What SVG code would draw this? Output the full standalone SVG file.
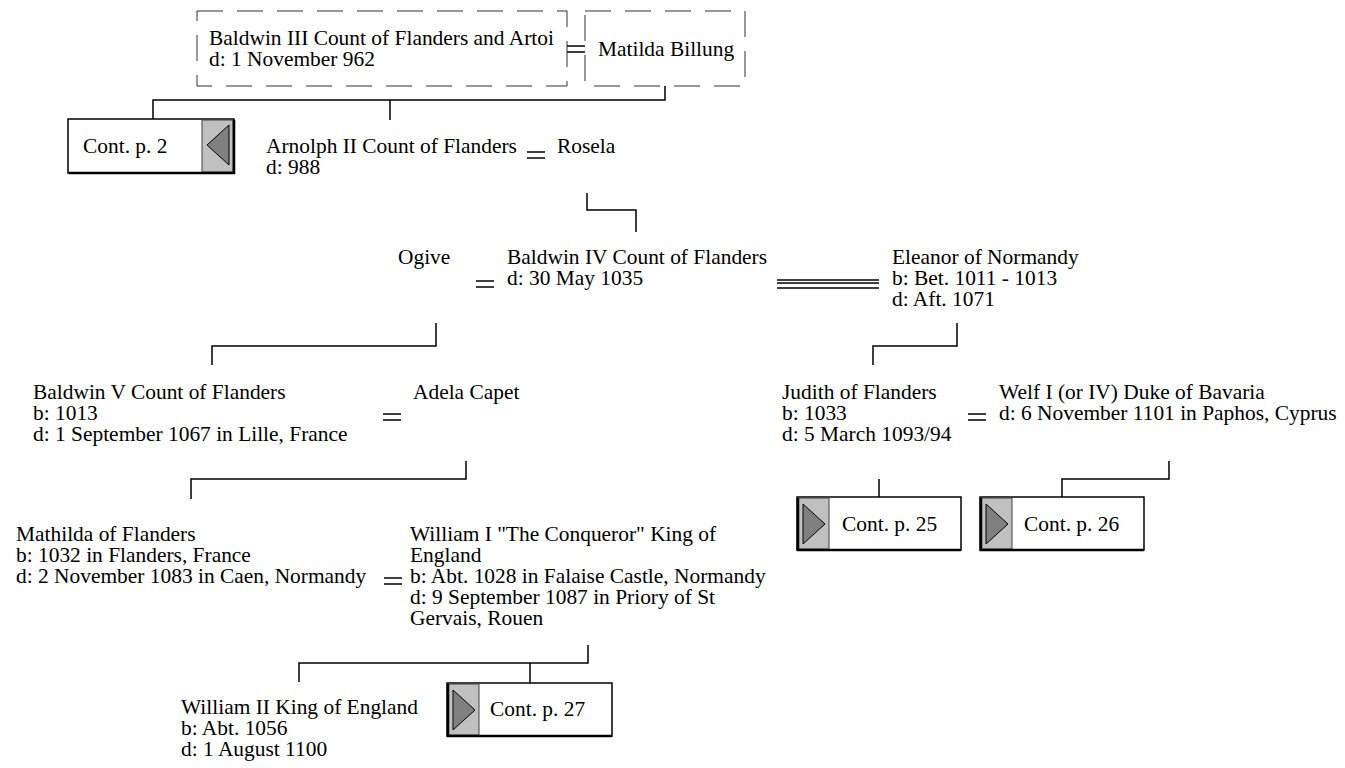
<svg xmlns="http://www.w3.org/2000/svg" width="1345" height="768" viewBox="0 0 1345 768">
<style>
text{font-family:"Liberation Serif","Times New Roman",serif;font-size:20.5px;fill:#000}
.c{fill:none;stroke:#000;stroke-width:1.5}
.dash{fill:#fff;stroke:#333;stroke-width:1;stroke-dasharray:26 14}
.eq{stroke:#000;stroke-width:1.3}
.cb{fill:#fff;stroke:#000;stroke-width:1.5}
.gr{fill:#c0c0c0;stroke:#404040;stroke-width:1}
.tri{fill:#808080;stroke:#000;stroke-width:1}
</style>
<rect width="1345" height="768" fill="#fff"/>
<g id="connectors">
<path class="c" d="M665 86V100H153V119M390 100V120"/>
<path class="c" d="M587 193V210H636V232"/>
<path class="c" d="M436 323V346H212V365"/>
<path class="c" d="M957 323V346H873V365"/>
<path class="c" d="M466 461V479H191V499M879 479V497"/>
<path class="c" d="M1169 461V479H1062V497"/>
<path class="c" d="M588 645V663H299V682M530 663V683"/>
</g>
<g id="marriages">
<path class="eq" d="M567 46H585M567 52H585"/>
<path class="eq" d="M527 152H545M527 158H545"/>
<path class="eq" d="M476 281H494M476 287H494"/>
<path class="eq" d="M777 280H879M777 283H879M777 288H879"/>
<path class="eq" d="M383 414H401M383 420H401"/>
<path class="eq" d="M968 414H986M968 420H986"/>
<path class="eq" d="M384 578H402M384 584H402"/>
</g>
<g id="baldwin3">
<rect class="dash" x="197" y="11" width="370" height="75"/>
<g transform="translate(209 0) scale(1.045 1)">
<text x="0" y="45">Baldwin III Count of Flanders and Artoi</text>
<text x="0" y="66">d: 1 November 962</text>
</g>
</g>
<g id="matilda">
<rect class="dash" x="585" y="11" width="160" height="75"/>
<text x="598" y="56" transform="translate(598 0) scale(1.045 1) translate(-598 0)">Matilda Billung</text>
</g>
<g id="cont2">
<rect class="cb" x="68" y="119" width="166" height="54"/>
<rect class="gr" x="202" y="120" width="31" height="52"/>
<path d="M234 120V173H69" fill="none" stroke="#000" stroke-width="2.5"/>
<polygon class="tri" points="229,125 229,165 207,145"/>
<text x="0" y="153" transform="translate(83 0) scale(1.045 1)">Cont. p. 2</text>
</g>
<g id="arnolph" transform="translate(266 0) scale(1.045 1)">
<text x="0" y="153">Arnolph II Count of Flanders</text>
<text x="0" y="174">d: 988</text>
</g>
<g id="rosela" transform="translate(557 0) scale(1.045 1)"><text x="0" y="153">Rosela</text></g>
<g id="ogive" transform="translate(398 0) scale(1.045 1)"><text x="0" y="264">Ogive</text></g>
<g id="baldwin4" transform="translate(507 0) scale(1.045 1)">
<text x="0" y="264">Baldwin IV Count of Flanders</text>
<text x="0" y="285">d: 30 May 1035</text>
</g>
<g id="eleanor" transform="translate(892 0) scale(1.045 1)">
<text x="0" y="264">Eleanor of Normandy</text>
<text x="0" y="285">b: Bet. 1011 - 1013</text>
<text x="0" y="306">d: Aft. 1071</text>
</g>
<g id="baldwin5" transform="translate(33 0) scale(1.045 1)">
<text x="0" y="399">Baldwin V Count of Flanders</text>
<text x="0" y="420">b: 1013</text>
<text x="0" y="441">d: 1 September 1067 in Lille, France</text>
</g>
<g id="adela" transform="translate(413 0) scale(1.045 1)"><text x="0" y="399">Adela Capet</text></g>
<g id="judith" transform="translate(782 0) scale(1.045 1)">
<text x="0" y="399">Judith of Flanders</text>
<text x="0" y="420">b: 1033</text>
<text x="0" y="441">d: 5 March 1093/94</text>
</g>
<g id="welf" transform="translate(999 0) scale(1.045 1)">
<text x="0" y="399">Welf I (or IV) Duke of Bavaria</text>
<text x="0" y="420">d: 6 November 1101 in Paphos, Cyprus</text>
</g>
<g id="cont25">
<rect class="cb" x="797" y="497" width="164" height="53"/>
<rect class="gr" x="798" y="498" width="31" height="51"/>
<path d="M798 498V550H961" fill="none" stroke="#000" stroke-width="2.5"/>
<polygon class="tri" points="803,504 803,544 825,524"/>
<text x="0" y="531" transform="translate(842 0) scale(1.045 1)">Cont. p. 25</text>
</g>
<g id="cont26">
<rect class="cb" x="980" y="497" width="164" height="53"/>
<rect class="gr" x="981" y="498" width="31" height="51"/>
<path d="M981 498V550H1144" fill="none" stroke="#000" stroke-width="2.5"/>
<polygon class="tri" points="986,504 986,544 1008,524"/>
<text x="0" y="531" transform="translate(1024 0) scale(1.045 1)">Cont. p. 26</text>
</g>
<g id="mathilda2" transform="translate(16 0) scale(1.045 1)">
<text x="0" y="541">Mathilda of Flanders</text>
<text x="0" y="562">b: 1032 in Flanders, France</text>
<text x="0" y="583">d: 2 November 1083 in Caen, Normandy</text>
</g>
<g id="william1" transform="translate(410 0) scale(1.045 1)">
<text x="0" y="541">William I "The Conqueror" King of</text>
<text x="0" y="562">England</text>
<text x="0" y="583">b: Abt. 1028 in Falaise Castle, Normandy</text>
<text x="0" y="604">d: 9 September 1087 in Priory of St</text>
<text x="0" y="625">Gervais, Rouen</text>
</g>
<g id="william2" transform="translate(181 0) scale(1.045 1)">
<text x="0" y="714">William II King of England</text>
<text x="0" y="735">b: Abt. 1056</text>
<text x="0" y="756">d: 1 August 1100</text>
</g>
<g id="cont27">
<rect class="cb" x="447" y="683" width="165" height="53"/>
<rect class="gr" x="448" y="684" width="31" height="51"/>
<path d="M448 684V736H612" fill="none" stroke="#000" stroke-width="2.5"/>
<polygon class="tri" points="453,690 453,730 475,710"/>
<text x="0" y="716" transform="translate(490 0) scale(1.045 1)">Cont. p. 27</text>
</g>
</svg>
